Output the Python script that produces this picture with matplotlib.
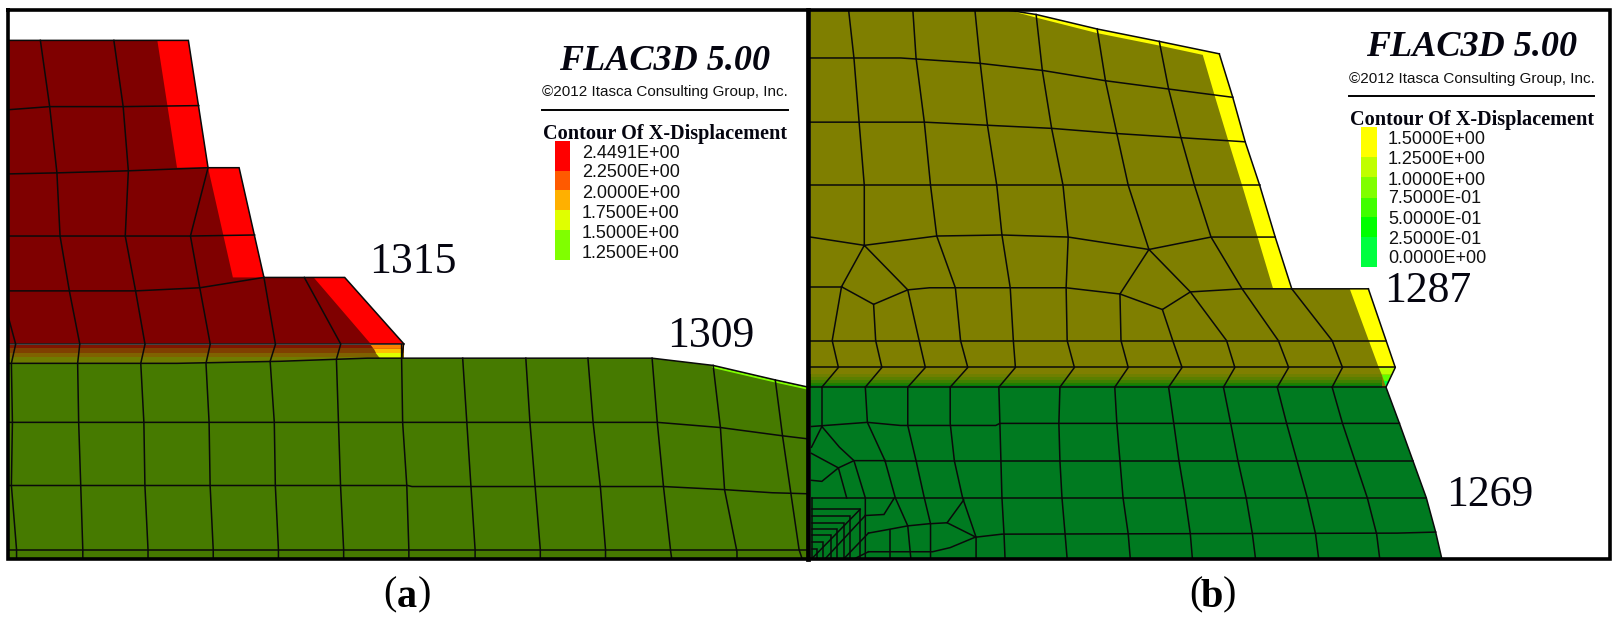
import matplotlib
matplotlib.use("Agg")
import matplotlib.pyplot as plt

OLIVE = "#7f7f00"
DARK_RED = "#7f0000"
GREEN_A = "#467a00"
GREEN_B = "#007a20"

# ---- panel (a) regions
a_slope = [(8, 39), (182, 39), (201, 162), (231, 162), (255, 268), (333, 268), (390, 332), (8, 332)]
a_red_strips = [
    [(152, 39), (182, 39), (201, 162), (171, 162)],
    [(201, 162), (231, 162), (255, 268), (225, 268)],
    [(303, 268), (333, 268), (390, 332), (358, 332)],
]
a_band_y = [333, 336, 341, 345, 352]
a_band_colors = ["#7f1500", "#7f3f00", "#7f6200", "#6f7c00"]
a_toe = [
    [(358, 333), (390, 333), (389, 337), (361, 337)],
    [(361, 337), (389, 337), (389, 341), (363, 341)],
    [(363, 341), (389, 341), (388, 346), (367, 346)],
]
a_toe_colors = ["#ff8000", "#ffc000", "#e0ff00"]
a_ground = [(8, 351), (171, 351), (271, 349), (355, 346), (388, 346), (630, 346), (689, 353),
            (749, 367), (781, 374), (781, 540), (8, 540)]
a_light_strip = [(689, 353), (749, 367), (781, 374)]

a_mesh = [
    # upper horizontals
    [(8, 106), (48, 103), (119, 103), (192, 102)],
    [(8, 168), (55, 167), (124, 165), (201, 162)],
    [(8, 228), (58, 228), (121, 228), (184, 228), (246, 227)],
    [(8, 281), (67, 281), (131, 281), (193, 278), (255, 268)],
    [(8, 332), (390, 332)],
    # upper verticals
    [(39, 39), (48, 103), (55, 167), (58, 228), (67, 281), (77, 332)],
    [(110, 39), (119, 103), (124, 165), (121, 228), (131, 281), (140, 332)],
    [(201, 162), (184, 228), (193, 278), (203, 332)],
    [(255, 268), (266, 332)],
    [(294, 268), (329, 332)],
    [(8, 306), (15, 332)],
    # lower verticals
    [(15, 333), (11, 351), (12, 408), (11, 469), (16, 531), (16, 540)],
    [(77, 333), (75, 351), (76, 408), (78, 469), (80, 531), (80, 540)],
    [(140, 333), (136, 351), (139, 408), (140, 469), (143, 531), (143, 540)],
    [(203, 333), (199, 351), (202, 408), (203, 469), (206, 531), (206, 540)],
    [(266, 333), (261, 349), (265, 408), (266, 469), (269, 531), (269, 540)],
    [(329, 333), (325, 347), (327, 408), (329, 469), (332, 531), (332, 540)],
    [(388, 333), (388, 346), (389, 408), (393, 469), (395, 531), (395, 540)],
    [(447, 346), (451, 408), (455, 470), (459, 531), (459, 540)],
    [(508, 346), (512, 408), (517, 470), (522, 531), (522, 540)],
    [(568, 346), (573, 408), (580, 470), (585, 531), (585, 540)],
    [(630, 346), (635, 408), (641, 470), (648, 533), (649, 540)],
    [(689, 353), (696, 413), (700, 473), (712, 533), (712, 540)],
    [(749, 367), (756, 421), (764, 476), (772, 531), (775, 540)],
    # lower horizontals
    [(8, 408), (635, 408), (696, 413), (756, 421), (781, 424)],
    [(8, 469), (394, 469), (398, 470), (641, 470), (700, 473), (746, 476), (781, 477)],
    [(8, 531), (781, 531)],
    # outlines
    [(8, 39), (182, 39), (201, 162), (231, 162), (255, 268), (333, 268), (390, 332), (388, 346)],
    [(8, 351), (171, 351), (271, 349), (355, 346), (388, 346), (630, 346), (689, 353), (749, 367), (781, 374)],
]

# ---- panel (b) regions
b_upper = [(783, 10), (975, 10), (1001, 14), (1060, 28), (1120, 40), (1178, 52), (1191, 94), (1203, 137),
           (1217, 179), (1232, 229), (1248, 279), (1322, 279), (1348, 355), (1339, 374), (783, 374)]
b_yellow = [
    [(975, 10), (1001, 14), (1060, 28), (1120, 40), (1178, 52), (1191, 94), (1203, 137), (1217, 179),
     (1232, 229), (1248, 279), (1230, 279), (1215, 229), (1200, 179), (1187, 137), (1174, 94), (1162, 53),
     (1120, 44), (1060, 32), (1001, 17)],
    [(1304, 279), (1322, 279), (1348, 355), (1332, 355)],
]
b_band_y = [361, 364, 367, 370, 372, 375]
b_band_colors = ["#6f7f00", "#5a7f00", "#3f7f00", "#1f7f00", "#007f10"]
b_toe = [
    [(1332, 355), (1348, 355), (1345, 362), (1335, 362)],
    [(1335, 362), (1345, 362), (1342, 368), (1337, 368)],
    [(1337, 368), (1342, 368), (1339, 374)],
]
b_toe_colors = ["#c0ff00", "#60ff00", "#00ff40"]
b_lower = [(783, 374), (1339, 374), (1352, 409), (1365, 445), (1378, 481), (1387, 514), (1393, 540), (783, 540)]

b_mesh = [
    # horizontals above the contact
    [(783, 56), (870, 56), (945, 61), (1007, 68), (1068, 78), (1129, 86), (1191, 94)],
    [(783, 118), (893, 118), (954, 121), (1016, 124), (1079, 129), (1141, 133), (1203, 137)],
    [(783, 179), (1217, 179)],
    [(783, 229), (835, 237), (905, 228), (968, 227), (1032, 229), (1110, 241), (1170, 229), (1232, 229)],
    [(783, 277), (813, 277)],
    [(877, 280), (898, 278), (1030, 278), (1082, 284)],
    [(1150, 282), (1200, 279), (1248, 279), (1322, 279)],
    [(835, 237), (813, 277), (844, 294), (877, 280), (835, 237)],
    [(1110, 241), (1082, 284), (1123, 299), (1150, 282), (1110, 241)],
    [(783, 329), (1339, 329)],
    [(783, 355), (1348, 355)],
    [(783, 374), (1339, 374)],
    # verticals above the contact
    [(820, 11), (825, 56), (830, 118), (835, 179), (835, 237)],
    [(882, 11), (885, 56), (893, 118), (899, 179), (905, 228), (923, 278), (928, 329), (935, 355), (918, 374)],
    [(942, 11), (947, 61), (954, 121), (963, 179), (968, 227), (976, 278), (979, 329), (981, 355), (965, 374)],
    [(1001, 14), (1007, 68), (1016, 124), (1027, 179), (1032, 229), (1030, 278), (1031, 329), (1038, 355), (1024, 374)],
    [(1060, 28), (1068, 78), (1079, 129), (1090, 179), (1110, 241)],
    [(1082, 284), (1083, 329), (1090, 355), (1077, 374)],
    [(1120, 40), (1129, 86), (1141, 133), (1154, 179), (1170, 229), (1200, 279), (1235, 329), (1245, 355), (1234, 374)],
    [(1150, 282), (1185, 329), (1193, 355), (1182, 374)],
    [(1123, 299), (1133, 329), (1142, 355), (1129, 374)],
    [(1248, 279), (1287, 329), (1297, 355), (1287, 374)],
    [(813, 277), (804, 329), (810, 355), (794, 374)],
    [(844, 294), (846, 329), (852, 355), (836, 374)],
    [(877, 280), (888, 329), (894, 355), (877, 374)],
    # columns below the contact
    [(965, 374), (966, 409), (967, 445), (968, 481), (970, 516), (971, 540)],
    [(1024, 374), (1023, 409), (1024, 445), (1026, 481), (1029, 516), (1031, 540)],
    [(1077, 374), (1079, 409), (1082, 445), (1085, 481), (1090, 516), (1092, 540)],
    [(1129, 374), (1134, 409), (1139, 445), (1145, 481), (1150, 516), (1152, 540)],
    [(1182, 374), (1189, 409), (1196, 445), (1204, 481), (1210, 516), (1213, 540)],
    [(1234, 374), (1243, 409), (1253, 445), (1263, 481), (1271, 516), (1274, 540)],
    [(1287, 374), (1297, 409), (1309, 445), (1321, 481), (1330, 516), (1333, 540)],
    [(918, 374), (918, 409), (922, 445), (930, 481), (943, 519), (943, 540)],
    [(877, 374), (877, 411), (885, 445), (893, 481), (899, 506), (899, 540)],
    [(855, 445), (865, 481), (877, 508), (880, 540)],
    [(836, 374), (838, 408), (855, 445)],
    [(794, 374), (794, 412)],
    # horizontals below the contact
    [(784, 412), (838, 408), (870, 411), (962, 411), (966, 409), (1352, 409)],
    [(855, 445), (1365, 445)],
    [(784, 481), (1378, 481)],
    [(942, 519), (968, 516), (1350, 515), (1387, 514)],
    # fan near the tunnel corner
    [(794, 412), (811, 432), (825, 445), (836, 481), (836, 540)],
    [(784, 438), (810, 452), (818, 481)],
    [(784, 464), (794, 465), (810, 452), (825, 445), (855, 445)],
    [(794, 412), (784, 432)],
    [(836, 498), (854, 497), (864, 481)],
    [(915, 505), (931, 483)],
    [(839, 515), (861, 511), (877, 508), (897, 506), (915, 505), (943, 519)],
    [(839, 533), (901, 533), (918, 529), (942, 519)],
    [(860, 512), (860, 540)],
    [(784, 481), (784, 540)],
    [(784, 540), (831, 492)],
    [(797, 540), (836, 498)],
    [(815, 540), (839, 515)],
    [(825, 540), (839, 533)],
]
# nested little cells in the corner of panel (b)
corner_right = [831, 821, 815, 809, 803, 795, 789]
corner_top = [492, 498, 505, 511, 517, 524, 530]

# ---- legends
legend_a_labels = ["2.4491E+00", "2.2500E+00", "2.0000E+00", "1.7500E+00", "1.5000E+00", "1.2500E+00"]
legend_a_y = [148, 167, 187, 206, 226, 245]
legend_a_edges = [136, 165, 184, 203, 222, 251]
legend_a_colors = ["#ff0000", "#ff5a00", "#ffb000", "#e0ff00", "#80ff00"]

legend_b_labels = ["1.5000E+00", "1.2500E+00", "1.0000E+00", "7.5000E-01", "5.0000E-01", "2.5000E-01", "0.0000E+00"]
legend_b_y = [135, 154, 174, 192, 212, 231, 250]
legend_b_edges = [123, 152, 171, 191, 210, 229, 258]
legend_b_colors = ["#ffff00", "#c0ff00", "#80ff00", "#40ff00", "#00ff00", "#00ff40"]

elevations = [("1315", 357, 253), ("1309", 645, 325), ("1287", 1337, 281), ("1269", 1397, 478)]


def fill(ax, pts, color, z=1):
    ax.fill([p[0] for p in pts], [p[1] for p in pts], color=color, lw=0, zorder=z)


def draw_mesh(ax, lines):
    for line in lines:
        ax.plot([p[0] for p in line], [p[1] for p in line], color="#0a0a0a", lw=1.1, zorder=5,
                solid_joinstyle="miter")


def draw_legend(ax, x0, title_x, title_y, labels, label_y, edges, colors):
    ax.text(title_x, title_y + 2, "FLAC3D 5.00", family="Liberation Serif", weight="bold", style="italic",
            fontsize=26, ha="left", va="center", color="#050510")
    ax.text(x0, title_y + 32, "©2012 Itasca Consulting Group, Inc.", family="Liberation Sans",
            fontsize=11, ha="left", va="center", color="#111111")
    ax.plot([x0, x0 + 237], [title_y + 49, title_y + 49], color="black", lw=1.4, zorder=6)
    ax.text(x0 + 1, title_y + 72, "Contour Of X-Displacement", family="Liberation Serif", weight="bold",
            fontsize=14.6, ha="left", va="center", color="#050510")
    for i, c in enumerate(colors):
        ax.fill_between([x0 + 12, x0 + 27], edges[i], edges[i + 1], color=c, lw=0, zorder=3)
    for lab, y in zip(labels, label_y):
        ax.text(x0 + 38, y, lab, family="Liberation Sans", fontsize=13, ha="left", va="center",
                color="#111111")


def panel_label(ax, x, letter):
    ax.text(x - 16, 575, "(", family="Liberation Serif", fontsize=29, ha="center", va="center")
    ax.text(x, 577, letter, family="Liberation Serif", weight="bold", fontsize=29, ha="center", va="center")
    ax.text(x + 17, 575, ")", family="Liberation Serif", fontsize=29, ha="center", va="center")


fig = plt.figure(figsize=(16.23, 6.18), dpi=100)
ax = fig.add_axes([0, 0, 1, 1])
ax.set_xlim(0, 1568)
ax.set_ylim(597, 0)
ax.axis("off")

# panel (a)
fill(ax, a_slope, DARK_RED)
for strip in a_red_strips:
    fill(ax, strip, "#ff0000", 2)
for i, c in enumerate(a_band_colors):
    ax.fill_between([8, 390], a_band_y[i], a_band_y[i + 1], color=c, lw=0, zorder=1)
fill(ax, a_ground, GREEN_A, 2)
for pts, c in zip(a_toe, a_toe_colors):
    fill(ax, pts, c, 3)
ax.plot([p[0] for p in a_light_strip], [p[1] + 1.5 for p in a_light_strip], color="#80ff00", lw=1.5, zorder=3)
draw_mesh(ax, a_mesh)

# panel (b)
fill(ax, b_upper, OLIVE)
for i, c in enumerate(b_band_colors):
    ax.fill_between([783, 1335], b_band_y[i], b_band_y[i + 1], color=c, lw=0, zorder=1)
for strip in b_yellow:
    fill(ax, strip, "#ffff00", 2)
fill(ax, b_lower, GREEN_B, 2)
for pts, c in zip(b_toe, b_toe_colors):
    fill(ax, pts, c, 3)
draw_mesh(ax, b_mesh)
draw_mesh(ax, [[(784, t), (r, t), (r, 540)] for r, t in zip(corner_right, corner_top)])
draw_mesh(ax, [[(1178, 52), (1191, 94), (1203, 137), (1217, 179), (1232, 229), (1248, 279)],
               [(975, 10), (1001, 14), (1060, 28), (1120, 40), (1178, 52)],
               [(1322, 279), (1348, 355), (1339, 374), (1352, 409), (1365, 445), (1378, 481), (1387, 514), (1393, 540)]])

# frame and divider
ax.plot([8, 1555, 1555, 8, 8], [10, 10, 540, 540, 10], color="black", lw=2.6, zorder=8,
        solid_joinstyle="miter")
ax.plot([781, 781], [10, 540], color="black", lw=3.4, zorder=8)

draw_legend(ax, 524, 540, 57, legend_a_labels, legend_a_y, legend_a_edges, legend_a_colors)
draw_legend(ax, 1303, 1320, 44, legend_b_labels, legend_b_y, legend_b_edges, legend_b_colors)

for txt, x, y in elevations:
    ax.text(x, y, txt, family="Liberation Serif", fontsize=31.5, ha="left", va="center", color="#050510",
            zorder=9)

panel_label(ax, 393, "a")
panel_label(ax, 1171, "b")

fig.savefig("out.png", dpi=100)
